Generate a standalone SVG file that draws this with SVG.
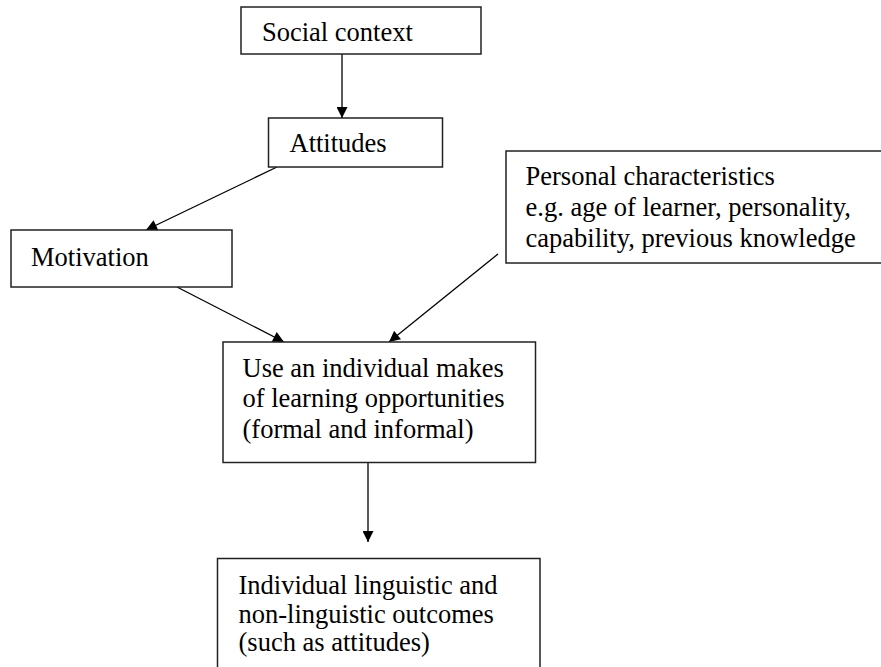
<svg xmlns="http://www.w3.org/2000/svg" width="881" height="667" viewBox="0 0 881 667">
<style>
.box{fill:#fff;stroke:#222;stroke-width:1.5}
.t{font-family:"Liberation Serif","Times New Roman",serif;font-size:26.5px;fill:#000}
.c{stroke:#000;stroke-width:1.3;fill:none;marker-end:url(#ah)}
</style>
<defs>
<marker id="ah" viewBox="0 0 10 10" refX="10" refY="5" markerWidth="12" markerHeight="11" markerUnits="userSpaceOnUse" orient="auto">
<path d="M0,0 L10,5 L0,10 Z" fill="#000"/>
</marker>
</defs>
<rect width="881" height="667" fill="#fff"/>
<g id="connectors">
<line class="c" x1="342" y1="54" x2="342" y2="118"/>
<line class="c" x1="277" y1="167" x2="146" y2="230"/>
<line class="c" x1="177" y1="287" x2="284" y2="342"/>
<line class="c" x1="498" y1="254" x2="389" y2="342"/>
<line class="c" x1="368" y1="463" x2="368" y2="542"/>
</g>
<g id="social">
<rect class="box" x="241" y="7" width="240" height="47"/>
<text class="t" x="262" y="41">Social context</text>
</g>
<g id="attitudes">
<rect class="box" x="268.5" y="118" width="174" height="49"/>
<text class="t" x="289.5" y="152">Attitudes</text>
</g>
<g id="motivation">
<rect class="box" x="11" y="230" width="221" height="57"/>
<text class="t" x="31" y="266">Motivation</text>
</g>
<g id="personal">
<rect class="box" x="506" y="151" width="380" height="112"/>
<text class="t" x="525.5" y="185">Personal characteristics</text>
<text class="t" x="525.5" y="216">e.g. age of learner, personality,</text>
<text class="t" x="525.5" y="247">capability, previous knowledge</text>
</g>
<g id="use">
<rect class="box" x="223" y="342" width="312.5" height="120.5"/>
<text class="t" x="242.5" y="376.5">Use an individual makes</text>
<text class="t" x="242.5" y="407">of learning opportunities</text>
<text class="t" x="242.5" y="437.5">(formal and informal)</text>
</g>
<g id="outcomes">
<rect class="box" x="217.5" y="558.5" width="322.5" height="120"/>
<text class="t" x="238.5" y="594">Individual linguistic and</text>
<text class="t" x="238.5" y="622.5">non-linguistic outcomes</text>
<text class="t" x="238.5" y="650.5">(such as attitudes)</text>
</g>
</svg>
